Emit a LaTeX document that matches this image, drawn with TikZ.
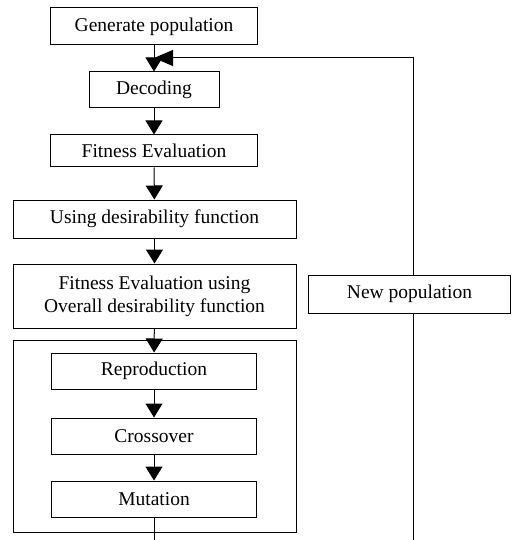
\documentclass[tikz,border=0pt]{standalone}
\usepackage{fontspec}
\setmainfont{Liberation Serif}
\usetikzlibrary{arrows.meta}
\tikzset{
  box/.style={draw, line width=1pt, rectangle, inner sep=0pt, align=center,
    font=\fontsize{19.5}{23}\selectfont},
  conn/.style={line width=1pt},
  arr/.style={conn, -{Triangle[width=17pt,length=14pt]}},
  larr/.style={conn, -{Triangle[width=16pt,length=19pt]}}
}
\begin{document}
\begin{tikzpicture}[x=1pt,y=-1pt]
\useasboundingbox[fill=white] (0,0) rectangle (511,540);
\node[box, minimum width=207pt, minimum height=37pt] (gen) at (154,26.5) {Generate population};
\node[box, minimum width=130pt, minimum height=36pt] (dec) at (154,90) {Decoding};
\node[box, minimum width=207pt, minimum height=32pt] (fit) at (154,151) {Fitness Evaluation};
\node[box, minimum width=283pt, minimum height=38pt] (use) at (154.5,219) {Using desirability function};
\node[box, minimum width=283pt, minimum height=64pt] (ovr) at (154.5,296) {Fitness Evaluation using\\Overall desirability function};
\node[box, minimum width=283pt, minimum height=192pt] (grp) at (154.5,436) {};
\node[box, minimum width=205pt, minimum height=36pt] (rep) at (154,371) {Reproduction};
\node[box, minimum width=205pt, minimum height=36pt] (cro) at (154,436) {Crossover};
\node[box, minimum width=205pt, minimum height=36pt] (mut) at (154,499) {Mutation};
\node[box, minimum width=202pt, minimum height=38pt] (new) at (409.5,294) {New population};
\coordinate (j) at (154,58);
\coordinate (rx) at (413,58);
\coordinate (b1) at (154,540);
\coordinate (b2) at (413,540);
\draw[arr] (gen) -- (dec);
\draw[larr] (new.north -| rx) -- (rx) -- (j);
\draw[arr] (dec) -- (fit);
\draw[arr] (fit) -- (use);
\draw[arr] (use) -- (ovr);
\draw[arr] (ovr) -- (rep);
\draw[arr] (rep) -- (cro);
\draw[arr] (cro) -- (mut);
\draw[conn] (mut.south) -- (b1);
\draw[conn] (new.south -| b2) -- (b2);
\end{tikzpicture}
\end{document}
